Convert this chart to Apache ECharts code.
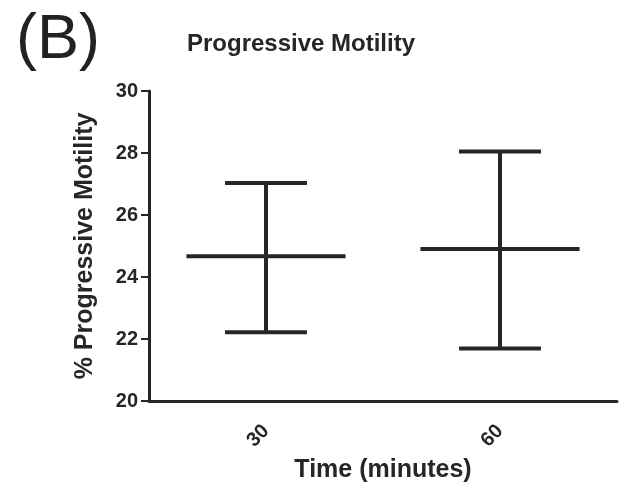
<!DOCTYPE html>
<html><head><meta charset="utf-8">
<script src="https://cdn.jsdelivr.net/npm/echarts@6/dist/echarts.min.js"></script>
<style>html,body{margin:0;padding:0;background:#fff;overflow:hidden}#c{width:622px;height:487px}</style>
</head><body><div id="c"></div>
<script>
const categories = ['30', '60'];
const meanValues = [24.67, 24.90];
const lowerValues = [22.22, 21.69];
const upperValues = [27.03, 28.05];
const yTicks = [20, 22, 24, 26, 28, 30];

const chart = echarts.init(document.getElementById('c'));
const ink = '#262626';
const font = '"Liberation Sans", Arial, sans-serif';
chart.setOption({
  animation: false,
  backgroundColor: '#fff',
  title: [
    { text: '(B)', left: 11, top: 4, textStyle: { fontFamily: font, fontSize: 63, fontWeight: 'normal', color: '#222' } },
    { text: 'Progressive Motility', left: 296, top: 27, textAlign: 'center', textStyle: { fontFamily: font, fontSize: 24, fontWeight: 'bold', color: ink } }
  ],
  grid: { left: 149, right: 5, top: 91, bottom: 86, containLabel: false, outerBoundsMode: 'none' },
  xAxis: {
    type: 'category', data: categories, boundaryGap: true,
    name: 'Time (minutes)', nameLocation: 'middle', nameGap: 52,
    nameTextStyle: { fontFamily: font, fontSize: 25, fontWeight: 'bold', color: ink },
    axisLine: { lineStyle: { color: ink, width: 3 } },
    axisTick: { alignWithLabel: true, length: 6, lineStyle: { color: ink, width: 2 } },
    axisLabel: { rotate: 45, margin: 27, fontFamily: font, fontSize: 20, fontWeight: 'bold', color: ink }
  },
  yAxis: {
    type: 'value', min: yTicks[0], max: yTicks[yTicks.length - 1], interval: 2,
    name: '% Progressive Motility', nameLocation: 'middle', nameGap: 51,
    nameTextStyle: { fontFamily: font, fontSize: 25, fontWeight: 'bold', color: ink },
    axisLine: { show: true, lineStyle: { color: ink, width: 3 } },
    axisTick: { show: true, length: 8, lineStyle: { color: ink, width: 2 } },
    splitLine: { show: false },
    axisLabel: { margin: 11, fontFamily: font, fontSize: 20, fontWeight: 'bold', color: ink }
  },
  series: [{
    type: 'custom',
    data: categories.map((c, i) => [i, meanValues[i], lowerValues[i], upperValues[i]]),
    encode: { x: 0, y: [1, 2, 3] },
    renderItem: function (params, api) {
      const x = api.value(0);
      const m = api.coord([x, api.value(1)]);
      const lo = api.coord([x, api.value(2)]);
      const hi = api.coord([x, api.value(3)]);
      const band = api.size([1, 0])[0];
      const mw = band * 0.34;
      const cw = band * 0.175;
      const st = { stroke: ink, lineWidth: 4, lineCap: 'butt' };
      return {
        type: 'group',
        children: [
          { type: 'line', shape: { x1: m[0] - mw, y1: m[1], x2: m[0] + mw, y2: m[1] }, style: st },
          { type: 'line', shape: { x1: lo[0], y1: lo[1], x2: hi[0], y2: hi[1] }, style: st },
          { type: 'line', shape: { x1: hi[0] - cw, y1: hi[1], x2: hi[0] + cw, y2: hi[1] }, style: st },
          { type: 'line', shape: { x1: lo[0] - cw, y1: lo[1], x2: lo[0] + cw, y2: lo[1] }, style: st }
        ]
      };
    }
  }]
});
</script></body></html>
